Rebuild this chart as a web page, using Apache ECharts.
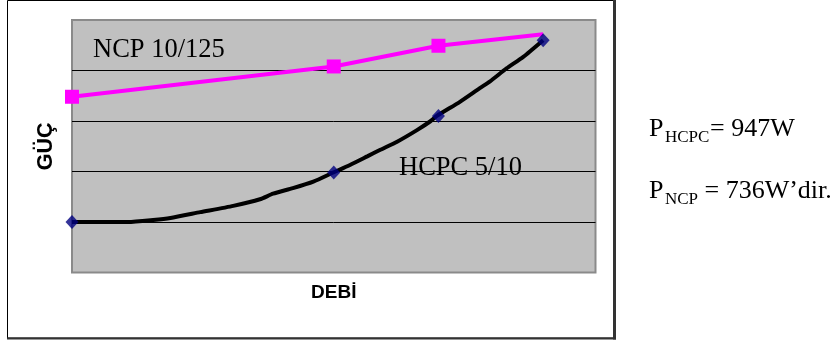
<!DOCTYPE html>
<html>
<head>
<meta charset="utf-8">
<script src="https://cdn.jsdelivr.net/npm/echarts@6/dist/echarts.min.js"></script>
<style>
  html, body { margin: 0; padding: 0; background: #ffffff; }
  #chart { width: 834px; height: 342px; }
</style>
</head>
<body>
<div id="chart"></div>
<script>
// Flow rate (DEBİ) vs. power (GÜÇ) for two pumps
const xTicks = [0, 5, 7, 9];

// NCP 10/125 operating points
const ncpValues = [3.48, 4.08, 4.49, 4.72];

// HCPC 5/10 operating points
const hcpcValues = [1.0, 1.98, 3.1, 4.6];

// HCPC 5/10 characteristic curve (flow, power)
const hcpcCurveX = [0, 1.07, 1.55, 1.88, 2.45, 3.08, 3.59, 3.84, 4.22, 4.61, 4.99,
                    5.31, 5.64, 5.89, 6.21, 6.59, 6.84, 6.97, 7.41, 7.79, 7.98, 8.30, 8.62, 9.0];
const hcpcCurveY = [1.0, 1.0, 1.04, 1.08, 1.195, 1.32, 1.45, 1.56, 1.67, 1.80, 1.98,
                    2.13, 2.30, 2.43, 2.59, 2.82, 2.99, 3.10, 3.38, 3.65, 3.78, 4.04, 4.27, 4.6];

const chart = echarts.init(document.getElementById('chart'), null, { renderer: 'canvas' });

const ncpData = xTicks.map((x, i) => {
  const item = { value: [x, ncpValues[i]] };
  if (i === xTicks.length - 1) item.symbol = 'none';
  return item;
});
const hcpcPoints = xTicks.map((x, i) => [x, hcpcValues[i]]);
const hcpcCurve = hcpcCurveX.map((x, i) => [x, hcpcCurveY[i]]);

const serif = '"Liberation Serif", "Times New Roman", serif';
const sans = '"Liberation Sans", Arial, sans-serif';

chart.setOption({
  backgroundColor: '#ffffff',
  animation: false,
  grid: {
    left: 72, top: 20, width: 523.5, height: 252.5,
    show: true,
    backgroundColor: '#c0c0c0',
    borderColor: '#8a8a8a',
    borderWidth: 2
  },
  xAxis: {
    type: 'value', min: 0, max: 10, interval: 1,
    axisLine: { show: false }, axisTick: { show: false }, axisLabel: { show: false },
    splitLine: { show: false },
    name: 'DEBİ', nameLocation: 'middle', nameGap: 11,
    nameTextStyle: { fontFamily: sans, fontWeight: 'bold', fontSize: 19, color: '#000', letterSpacing: -0.5 }
  },
  yAxis: {
    type: 'value', min: 0, max: 5, interval: 1,
    axisLine: { show: false }, axisTick: { show: false }, axisLabel: { show: false },
    splitLine: {
      show: true,
      lineStyle: { color: ['#8a8a8a', '#000', '#000', '#000', '#000', '#8a8a8a'], width: 1 }
    },
    name: 'GÜÇ', nameLocation: 'middle', nameGap: 15, nameRotate: 90,
    nameTextStyle: { fontFamily: sans, fontWeight: 'bold', fontSize: 21.5, color: '#000' }
  },
  series: [
    {
      name: 'NCP 10/125', type: 'line', data: ncpData,
      symbol: 'rect', symbolSize: 14,
      lineStyle: { color: '#ff00ff', width: 4 },
      itemStyle: { color: '#ff00ff' },
      z: 2
    },
    {
      name: 'HCPC 5/10 curve', type: 'line', data: hcpcCurve,
      symbol: 'none', smooth: 0.2,
      lineStyle: { color: '#000000', width: 4 },
      z: 3
    },
    {
      name: 'HCPC 5/10', type: 'scatter', data: hcpcPoints,
      symbol: 'diamond', symbolSize: [13, 14],
      itemStyle: { color: '#000080' },
      z: 4
    }
  ],
  graphic: [
    // outer frame with darker right/bottom edges
    { type: 'rect', shape: { x: 7.5, y: 0.5, width: 607, height: 337.5 },
      style: { fill: null, stroke: '#000', lineWidth: 1 }, z: 1 },
    { type: 'line', shape: { x1: 614.5, y1: 0, x2: 614.5, y2: 339.5 },
      style: { stroke: '#333', lineWidth: 3 }, z: 1 },
    { type: 'line', shape: { x1: 7, y1: 338.5, x2: 616, y2: 338.5 },
      style: { stroke: '#333', lineWidth: 2 }, z: 1 },

    // series captions
    { type: 'text', left: 93, top: 37,
      style: { text: 'NCP 10/125', font: '26.5px ' + serif, fill: '#000' }, z: 10 },
    { type: 'text', left: 399, top: 155,
      style: { text: 'HCPC 5/10', font: '26.5px ' + serif, fill: '#000' }, z: 10 },

    // power results
    { type: 'text', left: 649, top: 116,
      style: { text: 'P', font: '26px ' + serif, fill: '#000' }, z: 10 },
    { type: 'text', left: 665, top: 129,
      style: { text: 'HCPC', font: '17px ' + serif, fill: '#000' }, z: 10 },
    { type: 'text', left: 710, top: 116,
      style: { text: '= 947W', font: '26px ' + serif, fill: '#000' }, z: 10 },

    { type: 'text', left: 649, top: 178,
      style: { text: 'P', font: '26px ' + serif, fill: '#000' }, z: 10 },
    { type: 'text', left: 665, top: 191,
      style: { text: 'NCP', font: '17px ' + serif, fill: '#000' }, z: 10 },
    { type: 'text', left: 698, top: 178,
      style: { text: ' = 736W’dir.', font: '26px ' + serif, fill: '#000' }, z: 10 }
  ]
});
</script>
</body>
</html>
